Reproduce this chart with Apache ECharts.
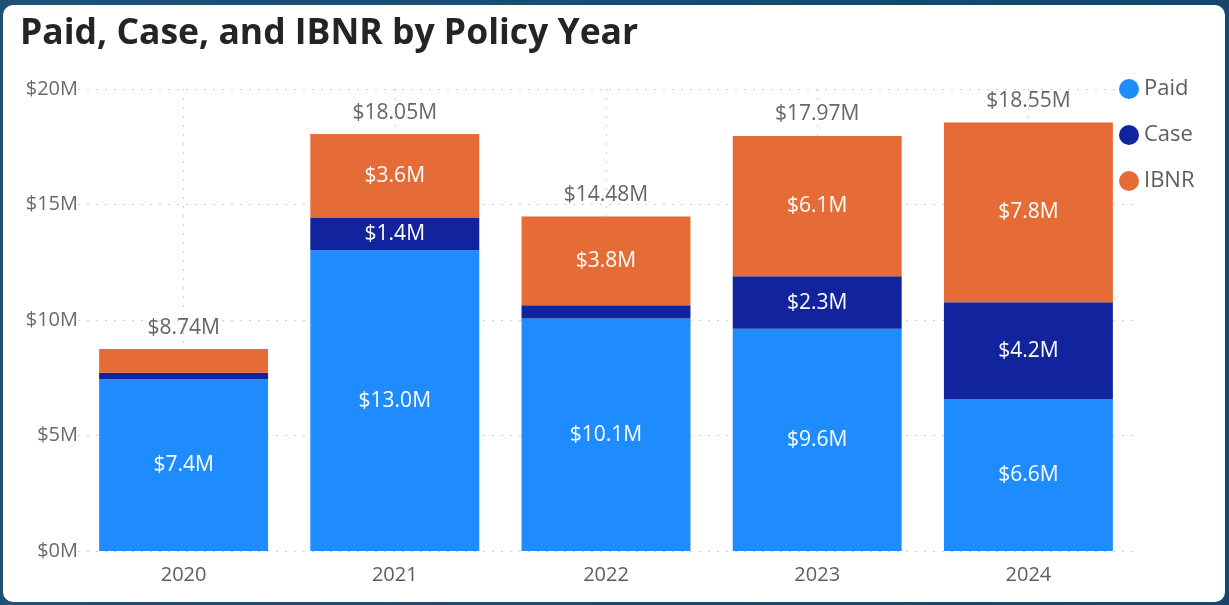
<!DOCTYPE html>
<html>
<head>
<meta charset="utf-8">
<script src="https://cdn.jsdelivr.net/npm/echarts@6/dist/echarts.min.js"></script>
<style>
  html, body {
    margin: 0;
    padding: 0;
    width: 1229px;
    height: 605px;
    overflow: hidden;
    background: linear-gradient(90deg, #1f5175, #17456b);
  }
  #card {
    position: absolute;
    left: 3px;
    top: 5px;
    width: 1222px;
    height: 597px;
    background-color: #FFFFFF;
    border-radius: 10px;
  }
  #chart {
    position: absolute;
    left: 0;
    top: 0;
    width: 1229px;
    height: 605px;
  }
</style>
</head>
<body>
<div id="card"></div>
<div id="chart"></div>
<script>
// policy years
var years = ['2020', '2021', '2022', '2023', '2024'];
// values in $M
var paid = [7.43, 13.02, 10.06, 9.62, 6.58];
var caseRes = [0.29, 1.40, 0.58, 2.27, 4.19];
var ibnr = [1.02, 3.63, 3.84, 6.08, 7.78];
var totals = [8.74, 18.05, 14.48, 17.97, 18.55];
var yTicks = ['$0M', '$5M', '$10M', '$15M', '$20M'];

var fontFam = '"Segoe UI", "Open Sans", sans-serif';

function insideLabel(p) {
  // small segments get no label, like the original
  if (p.value < 1.1) return '';
  return '$' + p.value.toFixed(1) + 'M';
}

var segLabel = {
  show: true,
  position: 'inside',
  color: '#FFFFFF',
  fontSize: 21,
  fontFamily: fontFam,
  formatter: insideLabel
};

var chart = echarts.init(document.getElementById('chart'));
chart.setOption({
  animation: false,
  title: {
    text: 'Paid, Case, and IBNR by Policy Year',
    left: 15,
    top: 11,
    textStyle: {
      fontFamily: fontFam,
      fontSize: 35.5,
      fontWeight: 'bold',
      color: '#252423'
    }
  },
  legend: {
    data: ['Paid', 'Case', 'IBNR'],
    orient: 'vertical',
    left: 1114,
    top: 73,
    icon: 'circle',
    itemWidth: 20,
    itemHeight: 20,
    itemGap: 24,
    textStyle: {
      fontFamily: fontFam,
      fontSize: 22,
      color: '#605E5C'
    }
  },
  grid: {
    left: 78,
    top: 89,
    width: 1056,
    height: 462
  },
  xAxis: {
    type: 'category',
    data: years,
    axisLine: { show: false },
    axisTick: { show: false },
    axisLabel: {
      fontFamily: fontFam,
      fontSize: 20,
      color: '#605E5C',
      margin: 14
    },
    splitLine: {
      show: true,
      alignWithLabel: true,
      lineStyle: { color: '#D0D0D0', type: [2, 7], width: 1 }
    }
  },
  yAxis: {
    type: 'value',
    min: 0,
    max: 20,
    interval: 5,
    axisLine: { show: false },
    axisTick: { show: false },
    axisLabel: {
      fontFamily: fontFam,
      fontSize: 20,
      color: '#6B6A68',
      margin: 0,
      formatter: function (v) { return yTicks[v / 5]; }
    },
    splitLine: {
      lineStyle: { color: '#D0D0D0', type: [2, 7], width: 1 }
    }
  },
  series: [
    {
      name: 'Paid',
      type: 'bar',
      stack: 'total',
      barCategoryGap: '20%',
      itemStyle: { color: '#1E8BFF' },
      label: segLabel,
      data: paid
    },
    {
      name: 'Case',
      type: 'bar',
      stack: 'total',
      itemStyle: { color: '#12239E' },
      label: segLabel,
      data: caseRes
    },
    {
      name: 'IBNR',
      type: 'bar',
      stack: 'total',
      itemStyle: { color: '#E66C37' },
      label: segLabel,
      data: ibnr
    },
    {
      name: 'Total',
      type: 'bar',
      stack: 'total',
      itemStyle: { color: 'transparent' },
      label: {
        show: true,
        position: 'top',
        distance: 11,
        fontFamily: fontFam,
        fontSize: 21,
        color: '#666666',
        formatter: function (p) { return '$' + totals[p.dataIndex].toFixed(2) + 'M'; }
      },
      data: [0, 0, 0, 0, 0]
    }
  ]
});
</script>
</body>
</html>
